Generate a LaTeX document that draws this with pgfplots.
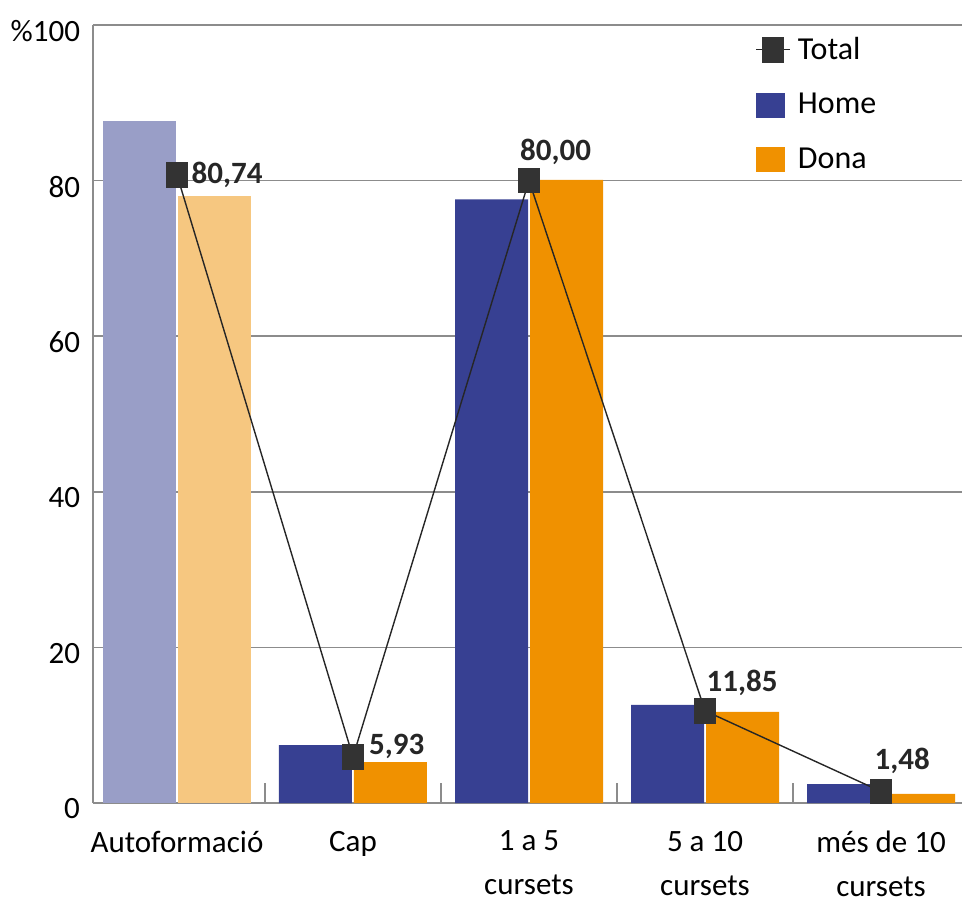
\documentclass[border=0pt]{standalone}
\usepackage{pgfplots}
\pgfplotsset{compat=1.18}
\usepackage{pgfplotstable}
\usepackage{fontspec}
\setmainfont{Carlito}

\definecolor{homeblue}{RGB}{55,64,146}
\definecolor{homelight}{RGB}{153,158,199}
\definecolor{donaorange}{RGB}{240,145,0}
\definecolor{donalight}{RGB}{246,199,128}
\definecolor{markgray}{RGB}{51,51,51}
\definecolor{axisgray}{RGB}{140,140,140}

% Total: value, label, label offsets (bp)
\pgfplotstableread{
x y lbl dx dy
0 80.74 80,74 7 -4.25
1 5.93 5,93 7.75 1.25
2 80.00 80,00 -4.75 10.25
3 11.85 11,85 0.5 9.5
4 1.48 1,48 -3.5 11
}\totaltable

\begin{document}
\begin{tikzpicture}[font=\fontsize{15.5bp}{20bp}\selectfont]
\path[use as bounding box] (-46.5bp,-49.5bp) rectangle (436bp,401.5bp);
\begin{axis}[
  at={(0,0)}, anchor=south west,
  scale only axis, width=434.5bp, height=389bp,
  xmin=-0.477, xmax=4.46, ymin=0, ymax=100,
  axis x line*=bottom, axis y line*=left,
  axis line style={axisgray, line width=0.9bp},
  ytick={0,20,40,60,80,100},
  yticklabels={0,20,40,60,80,\%100},
  yticklabel style={yshift=-3bp, xshift=-3bp},
  ymajorgrids, grid style={axisgray, line width=0.9bp},
  xtick={0,1,2,3,4},
  xticklabels={Autoformació, Cap, {1 a 5\\cursets}, {5 a 10\\cursets}, {més de 10\\cursets}},
  xticklabel style={align=center, yshift=-10.5bp, font=\fontsize{15.5bp}{22bp}\selectfont},
  major tick length=0pt,
  extra x ticks={0.5,1.5,2.5,3.5},
  extra x tick labels={},
  extra x tick style={major tick length=10bp, tick align=inside, tick style={axisgray, line width=0.9bp}},
  reverse legend,
  legend style={draw=none, fill=none, at={(0.762,0.99)}, anchor=north west,
    inner sep=0pt, row sep=11.5bp, column sep=1.5bp, font=\fontsize{16bp}{18bp}\selectfont},
  legend cell align=left,
]
\addplot[ybar, bar width=36.5bp, bar shift=-18.75bp, fill=homelight, draw=none, forget plot]
  coordinates {(0,87.7)};
\addplot[ybar, bar width=36.5bp, bar shift=18.75bp, fill=donalight, draw=none, forget plot]
  coordinates {(0,78.0)};
\addplot[ybar, bar width=36.5bp, bar shift=18.75bp, fill=donaorange, draw=none,
  legend image code/.code={\fill[donaorange] (0bp,-6.25bp) rectangle (14.5bp,6.25bp);}]
  coordinates {(1,5.27) (2,80.1) (3,11.7) (4,1.16)};
\addlegendentry{Dona}
\addplot[ybar, bar width=36.5bp, bar shift=-18.75bp, fill=homeblue, draw=none,
  legend image code/.code={\fill[homeblue] (0bp,-6.25bp) rectangle (14.5bp,6.25bp);}]
  coordinates {(1,7.45) (2,77.6) (3,12.6) (4,2.44)};
\addlegendentry{Home}
\addplot[black!85, line width=0.7bp, mark=square*, mark size=6bp,
  mark options={fill=markgray, draw=markgray, xscale=0.85},
  point meta=explicit symbolic,
  visualization depends on={\thisrow{dx}\as\dx},
  visualization depends on={\thisrow{dy}\as\dy},
  nodes near coords,
  every node near coord/.append style={anchor=base west, inner sep=0pt,
    xshift=\dx bp, yshift=\dy bp, font=\fontsize{15.5bp}{18bp}\selectfont\bfseries, text=black!85},
  legend image code/.code={\draw[black!85, line width=0.7bp] (0bp,0bp) -- (17bp,0bp);
    \fill[markgray] (3.25bp,-6.25bp) rectangle (13.75bp,6.25bp);}]
  table[x=x, y=y, meta=lbl] {\totaltable};
\addlegendentry{Total}
\end{axis}
\end{tikzpicture}
\end{document}
